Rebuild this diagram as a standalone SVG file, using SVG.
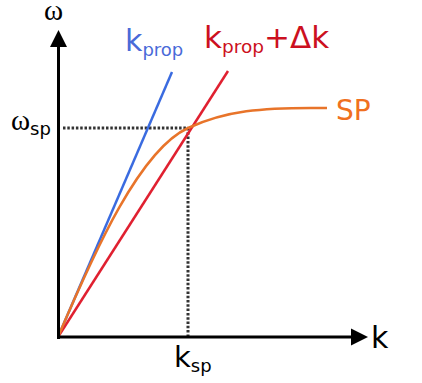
<svg xmlns="http://www.w3.org/2000/svg" width="422" height="383" viewBox="0 0 422 383">
<style>
.sans{font-family:"DejaVu Sans","Liberation Sans",sans-serif}
.serif{font-family:"Liberation Serif","DejaVu Serif",serif}
.axis{stroke:#000;stroke-width:3;fill:none}
.dot{stroke:#333;stroke-width:3;stroke-dasharray:2.5 1.8;fill:none}
</style>
<rect width="422" height="383" fill="#fff"/>
<g id="connectors">
<line class="dot" x1="63" y1="128" x2="188" y2="128"/>
<line class="dot" x1="188" y1="128" x2="188" y2="337"/>
<line id="kprop-line" x1="58" y1="337" x2="172" y2="72" stroke="#3a6be0" stroke-width="2.5"/>
<line id="kdk-line" x1="58" y1="337" x2="228" y2="71" stroke="#e02030" stroke-width="2.5"/>
<path id="sp-curve" d="M58,337 C95,250 140,150 188,128 C225,111 260,107 327,108" stroke="#e8742a" stroke-width="2.5" fill="none"/>
<line class="axis" x1="58.5" y1="339" x2="58.5" y2="44"/>
<polygon points="58.5,30 50,47 67,47" fill="#000"/>
<line class="axis" x1="57" y1="337" x2="354" y2="337"/>
<polygon points="368,337 351,328.5 351,345.5" fill="#000"/>
</g>
<g id="omega-axis-label"><text class="serif" x="44" y="20" font-size="29">ω</text></g>
<g id="omega-sp"><text class="serif" x="11" y="130" font-size="29">ω<tspan class="sans" font-size="18" dy="5">sp</tspan></text></g>
<g id="k-axis-label"><text class="sans" x="371" y="348" font-size="30">k</text></g>
<g id="k-sp"><text class="sans" x="174" y="367" font-size="29">k<tspan font-size="18" dy="5">sp</tspan></text></g>
<g id="kprop"><text class="sans" x="125" y="51" font-size="30" fill="#4a6ad8">k<tspan font-size="18" dy="5">prop</tspan></text></g>
<g id="kprop-dk"><text class="sans" x="204" y="48" font-size="31" fill="#cc1020">k<tspan font-size="18.5" dy="5">prop</tspan><tspan dy="-5">+Δk</tspan></text></g>
<g id="sp"><text class="sans" x="336" y="120" font-size="28" fill="#f07020">SP</text></g>
</svg>
